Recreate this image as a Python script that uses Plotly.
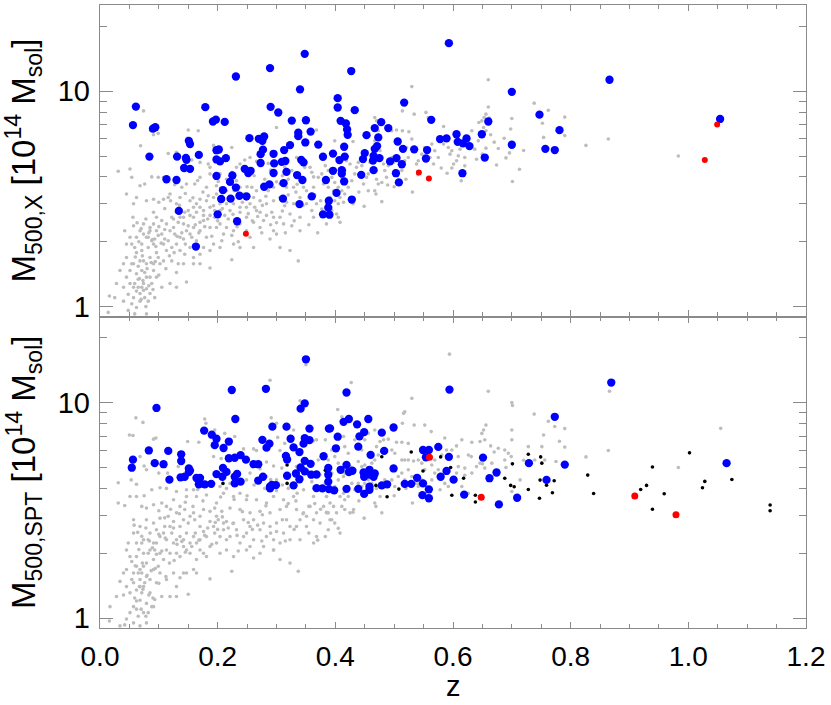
import plotly.graph_objects as go
from plotly.subplots import make_subplots

# (z, M500 [1e14 Msol])

# ---- top panel: M500,X ----
top_grey = [
    (0.074, 8.1), (0.069, 5.58), (0.051, 4.35), (0.031, 4.25), (0.054, 3.98), (0.086, 6.55), (0.091, 6.28),
    (0.099, 6.37), (0.150, 6.6), (0.167, 6.55), (0.148, 6.05), (0.116, 5.14), (0.130, 5.2), (0.156, 4.79),
    (0.170, 4.67), (0.193, 5.6), (0.224, 5.48), (0.215, 5.01), (0.184, 4.59), (0.187, 4.43), (0.238, 4.59),
    (0.204, 4.13), (0.246, 4.79), (0.255, 4.92), (0.245, 4.28), (0.266, 4.72), (0.286, 4.62), (0.314, 4.43),
    (0.326, 4.28), (0.300, 6.78), (0.334, 4.92), (0.348, 4.43), (0.357, 4.43), (0.368, 6.6), (0.374, 5.72),
    (0.363, 4.0), (0.377, 4.13), (0.346, 3.58), (0.224, 4.2), (0.232, 4.43), (0.198, 3.64), (0.201, 3.81),
    (0.170, 3.98), (0.161, 3.71), (0.181, 3.58), (0.187, 4.13), (0.147, 3.71), (0.139, 3.58), (0.127, 3.68),
    (0.119, 3.33), (0.108, 3.98), (0.099, 3.98), (0.088, 4.0), (0.076, 3.71), (0.068, 3.64), (0.062, 3.21),
    (0.045, 3.33), (0.057, 3.0), (0.079, 3.1), (0.091, 3.15), (0.108, 3.15), (0.116, 3.21), (0.130, 3.0),
    (0.136, 3.21), (0.153, 3.1), (0.164, 3.0), (0.170, 3.15), (0.184, 3.27), (0.193, 2.94), (0.204, 2.79),
    (0.215, 3.0), (0.227, 3.0), (0.238, 2.89), (0.249, 3.15), (0.258, 3.58), (0.263, 2.89), (0.272, 2.74),
    (0.283, 3.0), (0.295, 3.1), (0.292, 2.74), (0.306, 3.21), (0.314, 2.94), (0.323, 2.69), (0.329, 3.58),
    (0.340, 3.21), (0.351, 3.45), (0.363, 3.58), (0.368, 3.0), (0.377, 2.84), (0.312, 2.42), (0.326, 2.37),
    (0.289, 2.06), (0.300, 2.17), (0.272, 2.33), (0.261, 2.46), (0.249, 2.6), (0.238, 2.42), (0.227, 2.25),
    (0.215, 2.33), (0.204, 2.42), (0.195, 2.6), (0.187, 2.33), (0.176, 2.51), (0.170, 2.25), (0.159, 2.6),
    (0.150, 2.37), (0.144, 2.74), (0.136, 2.6), (0.127, 2.17), (0.119, 2.25), (0.113, 2.42), (0.105, 2.51),
    (0.096, 2.6), (0.091, 2.74), (0.085, 2.33), (0.074, 2.42), (0.068, 2.25), (0.057, 2.37), (0.051, 2.1),
    (0.045, 1.95), (0.059, 1.88), (0.071, 1.95), (0.082, 2.1), (0.093, 2.06), (0.099, 2.14), (0.110, 2.06),
    (0.130, 1.95), (0.142, 2.06), (0.153, 2.17), (0.164, 2.02), (0.176, 1.88), (0.193, 1.95), (0.207, 2.02),
    (0.224, 2.14), (0.238, 1.88), (0.261, 1.88), (0.306, 1.88), (0.323, 1.82), (0.337, 1.63), (0.224, 1.65),
    (0.187, 1.51), (0.170, 1.58), (0.159, 1.69), (0.144, 1.75), (0.133, 1.58), (0.122, 1.63), (0.113, 1.82),
    (0.108, 1.95), (0.096, 1.78), (0.085, 1.69), (0.079, 1.58), (0.068, 1.63), (0.057, 1.58), (0.045, 1.69),
    (0.051, 1.47), (0.062, 1.42), (0.071, 1.47), (0.079, 1.37), (0.088, 1.28), (0.096, 1.37), (0.105, 1.23),
    (0.119, 1.28), (0.130, 1.23), (0.147, 1.3), (0.085, 1.15), (0.074, 1.19), (0.065, 1.23), (0.057, 1.1),
    (0.048, 1.14), (0.040, 1.23), (0.054, 1.03), (0.048, 0.96), (0.059, 0.925), (0.079, 0.925), (0.093, 1.1),
    (0.068, 1.06), (0.034, 0.89), (0.014, 0.94), (0.016, 1.12), (0.040, 1.06), (0.074, 1.28), (0.091, 1.58),
    (0.065, 1.34), (0.076, 1.44), (0.082, 1.88), (0.091, 1.95), (0.071, 1.82), (0.062, 2.1), (0.074, 2.17),
    (0.085, 2.25), (0.091, 2.42), (0.136, 2.1), (0.147, 2.25), (0.159, 2.33), (0.170, 2.46), (0.142, 2.42),
    (0.153, 2.65), (0.164, 2.74), (0.130, 2.74), (0.122, 2.6), (0.176, 2.79), (0.187, 2.89), (0.181, 3.1),
    (0.193, 3.21), (0.198, 3.33), (0.207, 3.21), (0.215, 3.45), (0.221, 3.71), (0.232, 3.84), (0.238, 3.58),
    (0.244, 3.33), (0.261, 3.21), (0.266, 3.45), (0.272, 3.1), (0.286, 3.45), (0.295, 3.58), (0.306, 3.71),
    (0.317, 3.58), (0.340, 3.98), (0.346, 3.84), (0.371, 3.98), (0.380, 3.71), (0.351, 3.0), (0.360, 2.79),
    (0.329, 3.0), (0.317, 3.05), (0.283, 2.65), (0.295, 2.6), (0.266, 2.79), (0.255, 3.0), (0.249, 2.89),
    (0.238, 2.74), (0.221, 2.79), (0.212, 2.65), (0.204, 3.0), (0.195, 2.79),
    (0.042, 2.25), (0.054, 1.95), (0.062, 1.78), (0.074, 1.63), (0.065, 1.54), (0.059, 1.28), (0.071, 1.23),
    (0.079, 1.21), (0.068, 1.15), (0.076, 1.1), (0.062, 0.99), (0.085, 1.37), (0.091, 1.47), (0.102, 1.58),
    (0.099, 1.69), (0.108, 1.63), (0.079, 2.1), (0.088, 2.02), (0.096, 2.25), (0.105, 2.17), (0.116, 2.02),
    (0.125, 2.33), (0.133, 2.46), (0.142, 2.6), (0.150, 2.79), (0.159, 2.89), (0.170, 2.89), (0.176, 2.65),
    (0.187, 2.65), (0.198, 2.33), (0.210, 2.17), (0.227, 1.95), (0.181, 2.1), (0.153, 1.88), (0.136, 1.82),
    (0.122, 1.88), (0.051, 1.28), (0.045, 1.37), (0.057, 1.23), (0.082, 1.06), (0.054, 1.58), (0.040, 1.58),
    (0.034, 1.47), (0.028, 1.28), (0.025, 1.1), (0.130, 1.44), (0.142, 1.58), (0.159, 1.58), (0.170, 1.75),
    (0.187, 1.82), (0.204, 1.88), (0.249, 2.25), (0.278, 2.51), (0.306, 2.6), (0.340, 2.6), (0.363, 2.6),
    (0.340, 2.25), (0.295, 2.25),
    (0.056, 2.6), (0.063, 2.45), (0.070, 2.3), (0.078, 2.55), (0.083, 2.2), (0.089, 2.05), (0.095, 1.9),
    (0.100, 2.35), (0.104, 1.97), (0.110, 2.28), (0.066, 2.0), (0.060, 1.7), (0.072, 1.72), (0.080, 1.5),
    (0.087, 1.6), (0.094, 1.62), (0.067, 1.35), (0.073, 1.32), (0.083, 1.25), (0.062, 1.18), (0.070, 1.08),
    (0.078, 1.0), (0.090, 1.2), (0.100, 1.4), (0.112, 1.5), (0.118, 1.72), (0.126, 1.78), (0.131, 2.12),
    (0.139, 2.2), (0.145, 1.95), (0.156, 2.1), (0.162, 2.4), (0.168, 2.2), (0.178, 2.35), (0.183, 2.55),
    (0.190, 2.12), (0.196, 2.7), (0.200, 2.5), (0.208, 2.85), (0.218, 2.55), (0.226, 2.68), (0.233, 2.35),
    (0.242, 3.05), (0.252, 2.7), (0.259, 2.5), (0.268, 2.62), (0.276, 2.95), (0.282, 3.25), (0.300, 2.45),
    (0.310, 2.78), (0.320, 3.3), (0.333, 3.4), (0.345, 2.95), (0.355, 3.2), (0.365, 3.3), (0.375, 3.1),
    (0.120, 3.1), (0.110, 2.85), (0.100, 3.05), (0.125, 2.55), (0.135, 2.95), (0.145, 3.35), (0.158, 3.2),
    (0.175, 3.4), (0.166, 3.85), (0.205, 3.55), (0.215, 3.9), (0.228, 3.45), (0.250, 3.6), (0.262, 4.05),
    (0.280, 3.9), (0.290, 4.3), (0.300, 3.8), (0.310, 4.05), (0.320, 3.9), (0.335, 3.7), (0.360, 4.2),
    (0.235, 2.0), (0.255, 2.1), (0.275, 2.2), (0.290, 2.4), (0.315, 2.2), (0.330, 2.5), (0.355, 2.4),
    (0.370, 2.2), (0.385, 3.0), (0.430, 3.0), (0.440, 3.4), (0.470, 3.9), (0.500, 3.6), (0.520, 3.9),
    (0.540, 4.1), (0.580, 4.4), (0.620, 4.5), (0.650, 5.1), (0.670, 5.8), (0.690, 4.9), (0.720, 5.3),
    (0.399, 5.88), (0.430, 5.84), (0.383, 4.51), (0.388, 4.28), (0.394, 3.98), (0.399, 3.77), (0.405, 3.58),
    (0.411, 3.45), (0.408, 3.21), (0.416, 3.33), (0.422, 3.58), (0.428, 3.84), (0.433, 4.13), (0.436, 4.43),
    (0.425, 4.59), (0.419, 4.75), (0.399, 3.1), (0.405, 3.0), (0.414, 3.05), (0.394, 2.79), (0.402, 2.69),
    (0.408, 2.46), (0.405, 2.6), (0.385, 2.42), (0.391, 3.21), (0.397, 3.45), (0.388, 3.58), (0.411, 3.98),
    (0.416, 4.28), (0.439, 4.67), (0.445, 4.51), (0.450, 4.92), (0.456, 4.13), (0.462, 4.28), (0.459, 4.67),
    (0.467, 7.55), (0.470, 7.28), (0.473, 6.55), (0.467, 5.88), (0.476, 5.29), (0.479, 4.92), (0.482, 4.59),
    (0.484, 4.28), (0.487, 3.98), (0.490, 4.51), (0.496, 4.92), (0.499, 4.67), (0.501, 4.28), (0.489, 3.67),
    (0.479, 3.77), (0.473, 3.71), (0.467, 3.45), (0.469, 3.33), (0.479, 3.07), (0.449, 2.92), (0.456, 3.45),
    (0.448, 3.71), (0.453, 3.98), (0.496, 6.55), (0.504, 6.6), (0.514, 6.55), (0.525, 6.48), (0.514, 8.1),
    (0.521, 5.48), (0.524, 4.92), (0.530, 5.99), (0.530, 10.5), (0.534, 7.82), (0.531, 3.4), (0.518, 4.75),
    (0.513, 4.28), (0.538, 4.59), (0.541, 4.75), (0.547, 5.1), (0.552, 5.48), (0.554, 7.97), (0.558, 7.55),
    (0.564, 5.68), (0.561, 4.92), (0.567, 4.59), (0.569, 5.29), (0.575, 4.92), (0.584, 5.68), (0.584, 6.85),
    (0.592, 5.48), (0.595, 5.1), (0.598, 5.29), (0.601, 4.59), (0.598, 4.4), (0.590, 4.16), (0.606, 4.75),
    (0.609, 5.01), (0.612, 5.38), (0.614, 3.84), (0.620, 4.92), (0.632, 6.55), (0.637, 5.38), (0.640, 4.83),
    (0.643, 5.88), (0.644, 7.15), (0.649, 7.28), (0.652, 6.78), (0.653, 7.55), (0.656, 7.82), (0.660, 8.45),
    (0.660, 11.3), (0.662, 7.5), (0.664, 6.28), (0.656, 5.44), (0.656, 6.55), (0.674, 4.54), (0.677, 5.42),
    (0.687, 6.05), (0.698, 6.67), (0.700, 7.47), (0.701, 3.81), (0.696, 5.17), (0.713, 4.34), (0.738, 8.8),
    (0.752, 7.1), (0.754, 6.1), (0.762, 8.15), (0.790, 7.58), (0.790, 6.22), (0.826, 5.6), (0.864, 6.0),
    (0.983, 5.0),
]

top_blue = [
    (0.061, 8.48), (0.056, 6.96), (0.090, 6.7), (0.094, 6.8), (0.084, 4.97), (0.113, 3.9), (0.130, 3.87),
    (0.134, 2.78), (0.163, 1.9), (0.131, 4.97), (0.146, 4.9), (0.147, 4.8), (0.143, 4.4), (0.153, 4.36),
    (0.151, 5.88), (0.153, 5.68), (0.168, 5.06), (0.179, 8.43), (0.192, 7.23), (0.197, 7.38), (0.212, 7.2),
    (0.231, 11.7), (0.198, 4.04), (0.198, 4.82), (0.202, 5.36), (0.198, 5.32), (0.204, 4.72), (0.214, 4.89),
    (0.209, 3.47), (0.206, 3.16), (0.200, 2.68), (0.222, 3.17), (0.221, 3.79), (0.225, 4.06), (0.231, 3.57),
    (0.233, 2.49), (0.237, 3.27), (0.249, 3.25), (0.246, 4.36), (0.252, 4.17), (0.256, 4.27), (0.254, 6.05),
    (0.270, 6.01), (0.276, 5.88), (0.279, 6.16), (0.273, 5.1), (0.277, 5.35), (0.273, 4.64), (0.279, 3.6),
    (0.289, 12.8), (0.290, 8.46), (0.303, 7.96), (0.288, 3.69), (0.295, 4.17), (0.295, 5.12), (0.296, 4.62),
    (0.311, 3.17), (0.312, 3.74), (0.313, 5.33), (0.309, 4.7), (0.315, 4.74), (0.317, 4.22), (0.323, 5.62),
    (0.326, 7.3), (0.339, 2.99), (0.335, 4.08), (0.337, 6.42), (0.337, 6.18), (0.340, 10.2), (0.348, 14.9),
    (0.350, 7.33), (0.358, 6.49), (0.349, 5.78), (0.342, 4.8), (0.346, 4.67), (0.344, 3.87), (0.371, 5.65),
    (0.379, 4.96), (0.360, 3.25), (0.379, 2.68), (0.389, 3.1), (0.388, 2.88), (0.390, 2.67), (0.384, 3.87),
    (0.396, 5.13), (0.396, 4.27), (0.402, 3.37), (0.407, 4.79), (0.411, 4.3), (0.411, 4.14), (0.415, 3.81),
    (0.415, 5.52), (0.416, 4.97), (0.428, 3.14), (0.404, 9.28), (0.404, 8.4), (0.409, 7.28), (0.418, 7.08),
    (0.420, 6.64), (0.421, 6.27), (0.427, 12.4), (0.433, 8.16), (0.444, 4.09), (0.447, 4.84), (0.450, 5.16),
    (0.453, 6.25), (0.464, 4.76), (0.465, 4.3), (0.465, 5.01), (0.467, 5.4), (0.471, 5.56), (0.473, 6.1),
    (0.467, 6.74), (0.475, 4.89), (0.478, 7.18), (0.490, 6.74), (0.493, 4.72), (0.503, 4.16), (0.504, 4.89),
    (0.506, 5.84), (0.508, 3.77), (0.513, 4.58), (0.515, 5.4), (0.517, 8.85), (0.534, 5.37), (0.554, 4.87),
    (0.556, 5.33), (0.563, 7.36), (0.578, 5.99), (0.589, 6.04), (0.593, 16.7), (0.606, 6.31), (0.608, 5.82),
    (0.617, 5.72), (0.623, 6.03), (0.628, 5.56), (0.616, 4.16), (0.649, 6.31), (0.660, 7.23), (0.654, 4.92),
    (0.700, 9.93), (0.700, 5.64), (0.747, 7.78), (0.757, 5.4), (0.773, 5.33), (0.781, 6.59), (0.866, 11.3),
    (1.054, 7.43),
]

top_red = [(0.248, 2.18), (0.542, 4.19), (0.559, 3.93), (1.028, 4.79), (1.049, 7.0)]

# ---- bottom panel: M500,SPT ----
bot_grey = [
    (0.061, 8.5), (0.073, 8.1), (0.050, 7.08), (0.056, 7.04), (0.091, 6.77), (0.095, 6.85), (0.068, 5.62),
    (0.075, 5.08), (0.079, 4.88), (0.031, 4.25), (0.053, 4.38), (0.062, 4.18), (0.100, 4.71), (0.115, 4.71),
    (0.133, 5.05), (0.149, 6.6), (0.168, 6.55), (0.178, 8.4), (0.180, 8.02), (0.195, 7.47), (0.212, 7.2),
    (0.193, 5.62), (0.206, 5.5), (0.229, 6.97), (0.244, 6.1), (0.261, 6.1), (0.255, 4.71), (0.272, 4.93),
    (0.283, 5.3), (0.291, 8.5), (0.300, 8.02), (0.289, 12.7), (0.302, 6.9), (0.314, 6.47), (0.329, 7.47),
    (0.340, 10.2), (0.350, 15.0), (0.363, 6.65), (0.368, 6.72), (0.371, 5.42), (0.374, 4.62), (0.354, 4.8),
    (0.334, 5.05), (0.309, 4.97), (0.295, 5.08), (0.283, 4.54), (0.300, 4.38), (0.317, 4.54), (0.306, 6.0),
    (0.266, 6.0), (0.249, 4.38), (0.221, 4.22), (0.204, 4.08), (0.193, 4.22), (0.181, 4.08), (0.170, 4.08),
    (0.159, 3.94), (0.147, 3.94), (0.130, 3.87), (0.113, 4.0), (0.102, 4.03), (0.088, 3.94), (0.075, 3.7),
    (0.062, 3.67), (0.051, 3.67), (0.031, 3.42), (0.042, 3.33), (0.057, 2.86), (0.071, 3.3), (0.079, 3.24),
    (0.091, 3.36), (0.105, 3.42), (0.113, 3.3), (0.125, 3.54), (0.136, 3.3), (0.147, 3.67), (0.164, 3.67),
    (0.181, 3.73), (0.198, 3.42), (0.210, 3.8), (0.227, 3.67), (0.238, 3.8), (0.249, 3.54), (0.266, 3.54),
    (0.283, 3.42), (0.295, 3.67), (0.312, 3.54), (0.329, 3.67), (0.346, 3.94), (0.363, 3.67), (0.374, 3.94),
    (0.391, 4.08), (0.385, 3.67), (0.380, 3.3), (0.368, 3.08), (0.357, 3.3), (0.346, 3.08), (0.334, 3.19),
    (0.317, 3.3), (0.306, 3.19), (0.289, 3.08), (0.272, 3.13), (0.255, 3.08), (0.238, 3.19), (0.221, 3.24),
    (0.207, 3.13), (0.195, 3.24), (0.176, 3.19), (0.159, 3.08), (0.144, 3.19), (0.130, 3.08), (0.116, 2.97),
    (0.102, 2.91), (0.091, 2.76), (0.079, 2.86), (0.068, 2.66), (0.057, 2.48), (0.048, 2.23), (0.045, 2.07),
    (0.062, 2.23), (0.074, 2.31), (0.085, 2.48), (0.096, 2.57), (0.110, 2.66), (0.122, 2.48), (0.136, 2.66),
    (0.150, 2.76), (0.161, 2.86), (0.170, 2.66), (0.187, 2.81), (0.201, 2.86), (0.215, 2.81), (0.227, 2.76),
    (0.244, 2.86), (0.261, 2.86), (0.278, 2.76), (0.289, 2.66), (0.300, 2.76), (0.317, 2.86), (0.334, 2.66),
    (0.351, 2.66), (0.368, 2.39), (0.363, 2.23), (0.340, 2.31), (0.323, 2.31), (0.306, 2.23), (0.295, 2.07),
    (0.278, 2.15), (0.261, 2.31), (0.249, 2.48), (0.232, 2.57), (0.221, 2.39), (0.210, 2.57), (0.195, 2.48),
    (0.181, 2.39), (0.170, 2.31), (0.159, 2.39), (0.147, 2.48), (0.136, 2.39), (0.125, 2.23), (0.113, 2.31),
    (0.102, 2.39), (0.091, 2.23), (0.085, 2.07), (0.074, 2.0), (0.062, 1.93), (0.054, 1.83), (0.045, 1.68),
    (0.057, 1.62), (0.068, 1.68), (0.079, 1.8), (0.091, 1.87), (0.102, 2.0), (0.113, 2.07), (0.130, 2.0),
    (0.142, 2.15), (0.153, 2.0), (0.164, 1.87), (0.176, 2.0), (0.187, 2.15), (0.198, 2.23), (0.215, 2.07),
    (0.227, 1.93), (0.249, 2.07), (0.261, 1.9), (0.272, 2.0), (0.295, 2.07), (0.306, 1.87), (0.323, 1.8),
    (0.337, 1.65), (0.224, 1.65), (0.187, 1.52), (0.159, 1.68), (0.147, 1.62), (0.136, 1.54), (0.125, 1.62),
    (0.113, 1.51), (0.102, 1.62), (0.091, 1.68), (0.079, 1.56), (0.068, 1.51), (0.057, 1.46), (0.045, 1.4),
    (0.040, 1.28), (0.051, 1.31), (0.062, 1.35), (0.074, 1.4), (0.085, 1.31), (0.093, 1.22), (0.079, 1.17),
    (0.068, 1.21), (0.057, 1.13), (0.051, 1.06), (0.045, 0.99), (0.042, 0.93), (0.057, 0.95), (0.079, 0.95),
    (0.074, 1.06), (0.062, 1.1), (0.091, 1.13), (0.017, 1.13), (0.016, 0.97), (0.034, 0.92), (0.119, 1.26),
    (0.130, 1.26), (0.150, 1.29), (0.105, 1.26), (0.068, 0.92), (0.096, 1.46), (0.085, 1.51), (0.071, 1.62),
    (0.062, 1.74), (0.082, 2.0), (0.093, 2.07), (0.071, 2.23), (0.082, 2.31), (0.096, 2.23), (0.108, 2.48),
    (0.119, 2.66), (0.130, 2.31), (0.142, 2.31), (0.153, 2.23), (0.164, 2.23), (0.176, 2.52), (0.193, 2.66),
    (0.204, 2.39), (0.210, 2.76), (0.198, 2.97), (0.187, 3.13), (0.170, 2.97), (0.153, 2.97), (0.142, 2.86),
    (0.125, 2.81), (0.244, 2.39), (0.255, 2.66), (0.272, 2.57), (0.283, 2.39), (0.295, 2.31), (0.312, 2.48),
    (0.323, 2.66), (0.340, 2.86), (0.351, 2.97), (0.363, 2.86), (0.374, 2.76), (0.385, 3.08), (0.391, 2.86),
    (0.059, 1.24), (0.071, 1.31), (0.076, 1.46), (0.054, 1.51), (0.065, 1.62), (0.074, 1.74), (0.051, 1.93),
    (0.040, 1.62), (0.034, 1.48), (0.028, 1.26), (0.065, 1.02), (0.082, 1.06), (0.088, 1.13), (0.068, 1.4),
    (0.099, 1.74), (0.108, 1.87), (0.119, 2.0), (0.136, 1.93), (0.147, 2.07), (0.170, 2.07), (0.181, 1.93),
    (0.204, 2.0), (0.215, 2.31), (0.238, 2.23), (0.142, 1.62), (0.130, 1.4), (0.164, 1.62),
    (0.058, 2.7), (0.064, 2.5), (0.071, 2.4), (0.078, 2.62), (0.084, 2.28), (0.089, 2.12), (0.096, 1.98),
    (0.100, 2.45), (0.105, 2.05), (0.111, 2.35), (0.066, 2.08), (0.060, 1.75), (0.072, 1.8), (0.080, 1.58),
    (0.087, 1.66), (0.094, 1.7), (0.067, 1.4), (0.073, 1.36), (0.083, 1.28), (0.062, 1.2), (0.070, 1.1),
    (0.078, 1.02), (0.090, 1.24), (0.100, 1.45), (0.112, 1.56), (0.118, 1.8), (0.126, 1.85), (0.131, 2.2),
    (0.139, 2.27), (0.145, 2.02), (0.156, 2.15), (0.162, 2.48), (0.168, 2.3), (0.178, 2.42), (0.183, 2.62),
    (0.190, 2.2), (0.196, 2.78), (0.200, 2.58), (0.208, 2.95), (0.218, 2.62), (0.226, 2.75), (0.233, 2.42),
    (0.242, 3.12), (0.252, 2.78), (0.259, 2.58), (0.268, 2.7), (0.276, 3.02), (0.282, 3.32), (0.300, 2.52),
    (0.310, 2.86), (0.320, 3.4), (0.333, 3.5), (0.345, 3.05), (0.355, 3.3), (0.365, 3.4), (0.375, 3.2),
    (0.120, 3.2), (0.110, 2.92), (0.100, 3.15), (0.125, 2.62), (0.135, 3.05), (0.145, 3.45), (0.158, 3.3),
    (0.175, 3.5), (0.166, 3.95), (0.205, 3.65), (0.215, 4.0), (0.228, 3.55), (0.250, 3.7), (0.262, 4.15),
    (0.280, 4.0), (0.290, 4.4), (0.300, 3.9), (0.310, 4.15), (0.320, 4.0), (0.335, 3.8), (0.360, 4.3),
    (0.235, 2.05), (0.255, 2.15), (0.275, 2.28), (0.290, 2.48), (0.315, 2.28), (0.330, 2.58), (0.355, 2.48),
    (0.370, 2.3), (0.385, 3.1), (0.430, 3.1), (0.440, 3.5), (0.470, 4.0), (0.500, 3.7), (0.520, 4.0),
    (0.540, 4.2), (0.580, 4.5), (0.620, 4.6), (0.650, 5.2), (0.670, 5.9), (0.690, 5.0), (0.720, 5.4),
    (0.427, 12.4), (0.404, 9.3), (0.411, 8.6), (0.383, 6.72), (0.394, 6.03), (0.399, 5.62), (0.405, 5.24),
    (0.414, 6.97), (0.416, 6.25), (0.422, 5.82), (0.433, 6.72), (0.439, 7.87), (0.445, 6.03), (0.450, 6.72),
    (0.456, 7.2), (0.467, 7.47), (0.470, 6.25), (0.476, 6.6), (0.482, 6.72), (0.490, 6.77), (0.504, 6.55),
    (0.513, 6.55), (0.524, 6.47), (0.516, 8.92), (0.518, 9.08), (0.514, 8.02), (0.530, 10.47), (0.534, 7.87),
    (0.552, 7.87), (0.563, 7.34), (0.586, 6.85), (0.594, 16.8), (0.660, 11.3), (0.700, 10.0), (0.701, 9.7),
    (0.738, 8.85), (0.762, 8.2), (0.754, 7.08), (0.751, 6.25), (0.773, 7.75), (0.728, 6.25), (0.700, 7.47),
    (0.700, 6.72), (0.699, 5.62), (0.694, 5.82), (0.677, 6.14), (0.688, 6.03), (0.664, 6.3), (0.654, 6.72),
    (0.652, 7.47), (0.656, 7.87), (0.649, 7.2), (0.646, 6.6), (0.632, 6.55), (0.631, 5.62), (0.626, 5.72),
    (0.615, 6.72), (0.609, 5.62), (0.606, 6.3), (0.598, 6.03), (0.589, 6.03), (0.581, 5.72), (0.569, 5.42),
    (0.564, 5.14), (0.552, 4.88), (0.547, 5.24), (0.541, 5.42), (0.533, 5.36), (0.524, 5.42), (0.518, 5.42),
    (0.513, 5.42), (0.501, 5.82), (0.496, 6.03), (0.487, 6.03), (0.479, 5.93), (0.473, 5.72), (0.467, 5.42),
    (0.462, 5.24), (0.450, 5.14), (0.445, 5.05), (0.439, 5.33), (0.433, 4.88), (0.428, 4.8), (0.425, 5.05),
    (0.416, 4.71), (0.414, 4.54), (0.405, 4.38), (0.399, 4.08), (0.394, 4.71), (0.391, 5.05), (0.388, 5.42),
    (0.385, 4.54), (0.383, 4.22), (0.385, 3.67), (0.391, 3.42), (0.397, 3.3), (0.388, 3.08), (0.394, 2.86),
    (0.399, 2.76), (0.405, 2.61), (0.408, 2.48), (0.388, 2.57), (0.383, 2.39), (0.402, 3.08), (0.411, 3.3),
    (0.416, 3.54), (0.422, 3.67), (0.416, 3.19), (0.425, 3.08), (0.431, 3.19), (0.408, 3.67), (0.414, 3.8),
    (0.422, 4.08), (0.428, 4.22), (0.433, 3.94), (0.439, 4.22), (0.445, 4.08), (0.450, 4.22), (0.456, 4.38),
    (0.462, 4.22), (0.467, 3.42), (0.469, 3.3), (0.479, 3.08), (0.449, 2.91), (0.473, 4.08), (0.476, 3.67),
    (0.484, 4.38), (0.490, 4.08), (0.496, 4.38), (0.501, 4.08), (0.507, 4.54), (0.513, 4.71), (0.518, 4.38),
    (0.524, 4.88), (0.530, 4.54), (0.531, 3.42), (0.535, 4.22), (0.541, 4.08), (0.547, 4.38), (0.552, 3.8),
    (0.555, 4.08), (0.561, 3.87), (0.564, 4.38), (0.569, 4.71), (0.575, 4.88), (0.578, 3.94), (0.586, 4.22),
    (0.592, 4.08), (0.598, 4.38), (0.606, 4.71), (0.609, 5.05), (0.615, 4.08), (0.620, 4.97), (0.626, 3.8),
    (0.632, 4.71), (0.640, 5.05), (0.646, 5.24), (0.654, 4.97), (0.666, 5.24), (0.674, 4.71), (0.688, 5.42),
    (0.700, 3.87), (0.714, 4.38), (0.739, 5.42), (0.756, 5.42),
    (0.866, 11.3), (0.790, 7.58), (0.781, 6.62), (0.790, 6.22), (0.775, 5.33), (0.826, 5.6), (0.864, 6.0),
    (0.983, 5.0), (1.055, 7.6),
]

bot_blue = [
    (0.056, 5.44), (0.054, 4.99), (0.096, 9.45), (0.083, 6.0), (0.093, 5.24), (0.108, 5.18), (0.116, 5.97),
    (0.118, 4.39), (0.138, 5.76), (0.138, 5.36), (0.137, 4.5), (0.144, 4.53), (0.151, 4.95), (0.151, 4.76),
    (0.153, 4.84), (0.164, 4.47), (0.170, 4.47), (0.168, 4.18), (0.178, 4.18), (0.189, 4.2), (0.177, 7.42),
    (0.190, 7.1), (0.198, 6.8), (0.195, 6.35), (0.210, 6.16), (0.198, 4.66), (0.209, 4.98), (0.215, 4.77),
    (0.208, 4.53), (0.219, 6.6), (0.219, 5.52), (0.229, 5.55), (0.239, 5.71), (0.224, 11.45), (0.230, 8.4),
    (0.229, 4.53), (0.233, 4.67), (0.229, 4.22), (0.239, 4.3), (0.248, 5.44), (0.261, 5.18), (0.269, 5.18),
    (0.269, 4.35), (0.277, 4.53), (0.276, 6.72), (0.282, 11.6), (0.283, 6.18), (0.288, 6.45), (0.293, 7.74),
    (0.289, 4.08), (0.292, 4.15), (0.299, 4.14), (0.289, 4.0), (0.316, 5.66), (0.318, 5.45), (0.317, 7.74),
    (0.318, 4.58), (0.329, 4.13), (0.324, 6.8), (0.329, 6.2), (0.333, 4.69), (0.339, 5.9), (0.339, 4.41),
    (0.341, 5.0), (0.348, 4.8), (0.346, 6.45), (0.348, 6.85), (0.356, 6.7), (0.341, 9.38), (0.348, 9.93),
    (0.350, 15.9), (0.356, 7.58), (0.348, 5.37), (0.358, 5.2), (0.359, 4.63), (0.368, 4.64), (0.368, 4.01),
    (0.378, 4.0), (0.380, 5.64), (0.389, 7.58), (0.388, 4.98), (0.388, 4.63), (0.388, 4.3), (0.389, 3.97),
    (0.398, 3.92), (0.391, 7.6), (0.404, 6.95), (0.401, 6.14), (0.409, 4.88), (0.414, 8.15), (0.423, 8.4),
    (0.419, 11.15), (0.419, 5.14), (0.419, 3.98), (0.423, 4.76), (0.429, 4.83), (0.437, 7.93), (0.456, 8.4),
    (0.441, 6.98), (0.439, 6.25), (0.449, 7.3), (0.439, 3.98), (0.449, 3.77), (0.448, 4.74), (0.449, 4.53),
    (0.458, 4.88), (0.458, 4.64), (0.458, 4.07), (0.458, 3.94), (0.460, 5.72), (0.467, 4.69), (0.465, 4.53),
    (0.479, 7.26), (0.483, 5.97), (0.479, 4.13), (0.488, 4.18), (0.499, 7.67), (0.499, 4.95), (0.518, 4.2),
    (0.529, 4.2), (0.539, 4.48), (0.549, 6.03), (0.559, 6.03), (0.549, 4.22), (0.554, 5.58), (0.559, 3.96),
    (0.559, 3.6), (0.548, 3.72), (0.575, 6.23), (0.579, 4.53), (0.589, 4.82), (0.593, 5.6), (0.594, 11.5),
    (0.601, 4.39), (0.619, 3.74), (0.651, 5.56), (0.662, 4.46), (0.674, 4.74), (0.678, 3.37), (0.709, 3.62),
    (0.729, 5.24), (0.759, 4.38), (0.773, 8.6), (0.790, 5.16), (0.869, 12.4), (1.065, 5.24),
]

bot_black = [
    (0.209, 4.22), (0.318, 5.14), (0.318, 4.22), (0.383, 4.85), (0.479, 5.61), (0.469, 4.13), (0.488, 3.66),
    (0.508, 3.97), (0.529, 5.9), (0.549, 4.82), (0.579, 5.6), (0.596, 5.0), (0.598, 3.72), (0.618, 4.46),
    (0.638, 3.72), (0.638, 3.46), (0.688, 4.46), (0.698, 4.13), (0.704, 4.07), (0.701, 5.2), (0.728, 5.76),
    (0.728, 3.95), (0.747, 3.6), (0.749, 5.6), (0.751, 5.24), (0.748, 4.37), (0.759, 4.14), (0.769, 3.82),
    (0.772, 4.34), (0.829, 4.61), (0.839, 3.79), (0.919, 3.95), (0.929, 4.13), (0.939, 5.03), (0.939, 3.2),
    (0.959, 3.78), (1.002, 5.85), (1.028, 4.31), (1.024, 4.03), (1.074, 4.4), (1.139, 3.35), (1.139, 3.15),
]

bot_red = [(0.560, 5.58), (0.648, 3.64), (0.909, 3.69), (0.979, 3.02)]

AXCOL = "#8a8a8a"
FONT = "Liberation Sans, Arial, Helvetica, sans-serif"
TITLE_FONT = "Liberation Sans Narrow, Arial Narrow, Liberation Sans, sans-serif"

fig = make_subplots(rows=2, cols=1, shared_xaxes=True, vertical_spacing=0)


def add(pts, row, color, size):
    z, m = zip(*pts)
    fig.add_trace(go.Scatter(x=list(z), y=list(m), mode="markers",
                             marker=dict(color=color, size=size, line=dict(width=0)),
                             hoverinfo="skip", showlegend=False), row=row, col=1)


add(top_grey, 1, "#bdbdbd", 3.6)
add(top_blue, 1, "#0000ff", 8.3)
add(top_red, 1, "#ff0000", 6)

add(bot_grey, 2, "#bdbdbd", 3.6)
add(bot_black, 2, "#000000", 3.6)
add(bot_blue, 2, "#0000ff", 8.3)
add(bot_red, 2, "#ff0000", 7)

fig.update_xaxes(range=[0, 1.2], tick0=0, dtick=0.2, tickformat=".1f", ticks="inside", ticklen=6,
                 tickwidth=1.3, tickcolor=AXCOL, showline=True, linecolor=AXCOL, linewidth=1.4,
                 mirror="allticks", showgrid=False, zeroline=False,
                 tickfont=dict(family=FONT, size=28, color="black"),
                 minor=dict(dtick=0.05, ticks="inside", ticklen=4, tickwidth=1.2, tickcolor=AXCOL))
fig.update_xaxes(showticklabels=False, row=1, col=1)
fig.update_xaxes(ticklabelstandoff=3, row=2, col=1)

fig.update_yaxes(type="log", range=[-0.046, 1.40], tickmode="array", tickvals=[1, 10],
                 ticktext=["1", "10"], ticks="inside", ticklen=13, tickwidth=1.3, tickcolor=AXCOL,
                 showline=True, linecolor=AXCOL, linewidth=1.4, mirror="allticks",
                 showgrid=False, zeroline=False, ticklabelstandoff=3,
                 tickfont=dict(family=FONT, size=29, color="black"),
                 minor=dict(tickmode="array", tickvals=[2, 3, 4, 5, 6, 7, 8, 9, 20], ticks="inside",
                            ticklen=7, tickwidth=1.2, tickcolor=AXCOL))

ytitles = [("M<sub>500,X</sub> [10<sup>14</sup> M<sub>sol</sub>]", 0.75),
           ("M<sub>500,SPT</sub> [10<sup>14</sup> M<sub>sol</sub>]", 0.25)]
for txt, yy in ytitles:
    fig.add_annotation(text=txt, xref="paper", yref="paper", x=-0.108, y=yy, textangle=-90,
                       showarrow=False, xanchor="center", yanchor="middle",
                       font=dict(family=TITLE_FONT, size=33, color="black"))
fig.add_annotation(text="z", xref="paper", yref="paper", x=0.5, y=-0.121, showarrow=False,
                   xanchor="center", yanchor="bottom", borderpad=0,
                   font=dict(family=FONT, size=29, color="black"))

fig.update_layout(width=831, height=705, margin=dict(l=100, r=25, t=5, b=77),
                  paper_bgcolor="white", plot_bgcolor="white",
                  font=dict(family=FONT, size=29, color="black"))

fig.write_html("out.html", config={"displayModeBar": False},
               post_script="document.body.style.margin='0';")
